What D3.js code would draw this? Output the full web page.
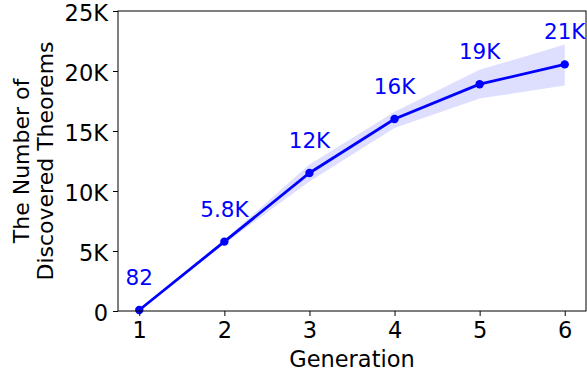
<!DOCTYPE html>
<html>
<head>
<meta charset="utf-8">
<script src="https://cdn.jsdelivr.net/npm/d3@7"></script>
<style>
body{margin:0;background:#fff;}
svg text{font-family:"DejaVu Sans",sans-serif;}
</style>
</head>
<body>
<svg width="587" height="375"></svg>
<script>
'use strict';

//the data
var generations = [1, 2, 3, 4, 5, 6];
var theorems = [82, 5780, 11500, 16000, 18900, 20550];
var bandLow = [40, 5600, 10800, 15250, 17700, 18800];
var bandHigh = [130, 5950, 12200, 16600, 20100, 22200];
var pointLabels = ['82', '5.8K', '12K', '16K', '19K', '21K'];
var yTicks = [0, 5000, 10000, 15000, 20000, 25000];
var yTickLabels = ['0', '5K', '10K', '15K', '20K', '25K'];

var svg = d3.select('svg');
var plotLeft = 118, plotRight = 586, plotTop = 11, plotBottom = 311;

var x = d3.scaleLinear().domain([0.75, 6.25]).range([plotLeft, plotRight]);
var y = d3.scaleLinear().domain([0, 25000]).range([plotBottom, plotTop]);

var rows = generations.map(function(g, i){
  return {g:g, v:theorems[i], lo:bandLow[i], hi:bandHigh[i], label:pointLabels[i]};
});

//shaded band
svg.append('path')
  .datum(rows)
  .attr('fill', 'rgba(0,0,255,0.13)')
  .attr('d', d3.area()
    .x(function(d){ return x(d.g); })
    .y0(function(d){ return y(d.lo); })
    .y1(function(d){ return y(d.hi); }));

//line
svg.append('path')
  .datum(rows)
  .attr('fill', 'none')
  .attr('stroke', '#0000ff')
  .attr('stroke-width', 2.8)
  .attr('d', d3.line()
    .x(function(d){ return x(d.g); })
    .y(function(d){ return y(d.v); }));

svg.selectAll('circle.pt')
  .data(rows)
  .enter().append('circle')
  .attr('class', 'pt')
  .attr('cx', function(d){ return x(d.g); })
  .attr('cy', function(d){ return y(d.v); })
  .attr('r', 4.2)
  .attr('fill', '#0000ff');

svg.selectAll('text.lbl')
  .data(rows)
  .enter().append('text')
  .attr('class', 'lbl')
  .attr('x', function(d){ return x(d.g); })
  .attr('y', function(d){ return y(d.v) - 25; })
  .attr('text-anchor', 'middle')
  .attr('font-size', 21.5)
  .attr('fill', '#0000ff')
  .text(function(d){ return d.label; });

//axes
var xAxis = d3.axisBottom(x).tickValues(generations).tickSize(5).tickPadding(6)
  .tickFormat(d3.format('d'));
var yAxis = d3.axisLeft(y).tickValues(yTicks).tickSize(5).tickPadding(5)
  .tickFormat(function(d, i){ return yTickLabels[i]; });

var gx = svg.append('g').attr('transform', 'translate(0,' + plotBottom + ')').call(xAxis);
var gy = svg.append('g').attr('transform', 'translate(' + plotLeft + ',0)').call(yAxis);
[gx, gy].forEach(function(g){
  g.select('.domain').remove();
  g.selectAll('.tick line').attr('stroke', '#000').attr('stroke-width', 1);
  g.selectAll('.tick text').attr('font-size', 22.5).attr('fill', '#000')
    .style('font-family', '"DejaVu Sans",sans-serif');
});
gy.selectAll('.tick text').attr('dy', '0.4em');

//frame
svg.append('rect')
  .attr('x', plotLeft).attr('y', plotTop)
  .attr('width', plotRight - plotLeft).attr('height', plotBottom - plotTop)
  .attr('fill', 'none').attr('stroke', '#000').attr('stroke-width', 1);

svg.append('text')
  .attr('x', (plotLeft + plotRight) / 2).attr('y', 367)
  .attr('text-anchor', 'middle').attr('font-size', 22.5)
  .text('Generation');

var yl = svg.append('text')
  .attr('transform', 'translate(0,' + (plotTop + plotBottom) / 2 + ') rotate(-90)')
  .attr('text-anchor', 'middle').attr('font-size', 22);
yl.append('tspan').attr('x', 0).attr('y', 29).text('The Number of');
yl.append('tspan').attr('x', 0).attr('y', 53).text('Discovered Theorems');
</script>
</body>
</html>
